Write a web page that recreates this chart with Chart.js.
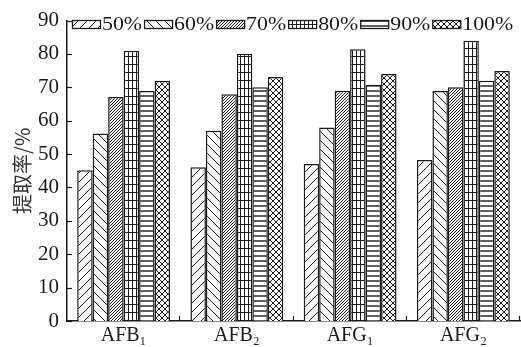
<!DOCTYPE html>
<html>
<head>
<meta charset="utf-8">
<script src="https://cdn.jsdelivr.net/npm/chart.js@4/dist/chart.umd.min.js"></script>
<style>
  html, body { margin: 0; padding: 0; background: #fff; }
  canvas { display: block; }
</style>
</head>
<body>
<canvas id="c" width="521" height="347"></canvas>
<script>
// --- data ---
const categories = ['AFB\u2081', 'AFB\u2082', 'AFG\u2081', 'AFG\u2082'];
const seriesLabels = ['50%', '60%', '70%', '80%', '90%', '100%'];
const s50 = [45.2, 46.1, 47.0, 48.2];
const s60 = [56.2, 57.0, 58.0, 68.9];
const s70 = [67.1, 67.9, 69.0, 70.0];
const s80 = [81.0, 80.1, 81.4, 84.0];
const s90 = [68.9, 70.0, 70.8, 72.0];
const s100 = [72.0, 73.1, 74.0, 74.9];
const yMin = 0, yMax = 90, yStep = 10;
const yTitle = '提取率/%';

const INK = '#1a1a1a';
const SERIF = '"Liberation Serif", "Times New Roman", serif';

// --- hatch patterns (one per series) ---
function makePattern(kind) {
    const c = document.createElement('canvas');
    const g = c.getContext('2d');
    let w = 8, h = 8;
    if (kind === 'fwd' || kind === 'back') { w = h = 9; }
    if (kind === 'dense') { w = h = 3; }
    if (kind === 'grid') { w = 4; h = 8; }
    if (kind === 'horiz') { w = 4; h = 5; }
    if (kind === 'cross') { w = h = 6; }
    c.width = w; c.height = h;
    g.fillStyle = '#fff';
    g.fillRect(0, 0, w, h);
    g.strokeStyle = INK;
    g.lineWidth = 1;
    const line = (x1, y1, x2, y2) => { g.beginPath(); g.moveTo(x1, y1); g.lineTo(x2, y2); g.stroke(); };
    if (kind === 'fwd' || kind === 'dense') {
        line(-1, h + 1, w + 1, -1);
        line(-1, 1, 1, -1);
        line(w - 1, h + 1, w + 1, h - 1);
    } else if (kind === 'back') {
        line(-1, -1, w + 1, h + 1);
        line(w - 1, -1, w + 1, 1);
        line(-1, h - 1, 1, h + 1);
    } else if (kind === 'grid') {
        line(0.5, 0, 0.5, h);
        line(0, 0.5, w, 0.5);
    } else if (kind === 'horiz') {
        g.lineWidth = 1.4;
        line(0, 1, w, 1);
    } else if (kind === 'cross') {
        line(-1, -1, w + 1, h + 1);
        line(-1, h + 1, w + 1, -1);
    }
    return g.createPattern(c, 'repeat');
}

const patterns = ['fwd', 'back', 'dense', 'grid', 'horiz', 'cross'].map(makePattern);
const seriesData = [s50, s60, s70, s80, s90, s100];

const datasets = seriesLabels.map((lab, i) => ({
    label: lab,
    data: seriesData[i],
    backgroundColor: patterns[i],
    borderColor: INK,
    borderWidth: 1.5,
    barPercentage: 1.0,
    categoryPercentage: 0.82
}));

// inward tick marks + legend drawn inside the plot
const decorPlugin = {
    id: 'decor',
    afterDraw(chart) {
        const ctx = chart.ctx;
        const x = chart.scales.x, y = chart.scales.y;
        const area = chart.chartArea;
        ctx.save();
        ctx.strokeStyle = INK;
        ctx.lineWidth = 1.2;
        // y ticks pointing right
        y.ticks.forEach((t, i) => {
            const py = Math.round(y.getPixelForTick(i)) + 0.5;
            ctx.beginPath();
            ctx.moveTo(area.left, py);
            ctx.lineTo(area.left + 5, py);
            ctx.stroke();
        });
        // x ticks at category boundaries pointing up
        const n = categories.length;
        const step = (area.right - area.left) / n;
        for (let i = 1; i <= n; i++) {
            const px = Math.round(x.getPixelForValue(i - 1) + step / 2) - 0.5;
            ctx.beginPath();
            ctx.moveTo(px, area.bottom);
            ctx.lineTo(px, area.bottom - 5);
            ctx.stroke();
        }
        // legend
        let lx = area.left + 5;
        const boxW = 29, boxH = 9, boxTop = 20;
        ctx.font = '19px ' + SERIF;
        ctx.textBaseline = 'middle';
        ctx.fillStyle = INK;
        chart.data.datasets.forEach(ds => {
            ctx.fillStyle = ds.backgroundColor;
            ctx.fillRect(lx, boxTop, boxW, boxH);
            ctx.lineWidth = 1.3;
            ctx.strokeRect(lx + 0.5, boxTop + 0.5, boxW - 1, boxH - 1);
            lx += boxW + 1;
            const tw = ctx.measureText(ds.label).width * 1.15;
            ctx.save();
            ctx.translate(lx, boxTop + boxH / 2 + 1);
            ctx.scale(1.15, 1);
            ctx.fillStyle = INK;
            ctx.fillText(ds.label, 0, 0);
            ctx.restore();
            lx += tw + 2;
        });
        ctx.restore();
    }
};

new Chart(document.getElementById('c'), {
    type: 'bar',
    data: { labels: categories, datasets },
    plugins: [decorPlugin],
    options: {
        responsive: false,
        animation: false,
        devicePixelRatio: 1,
        layout: { padding: { top: 17, right: 1, left: 0, bottom: 0 } },
        plugins: {
            legend: { display: false },
            tooltip: { enabled: false }
        },
        scales: {
            x: {
                grid: { display: false, drawTicks: false },
                border: { color: INK, width: 1.5 },
                ticks: { color: INK, font: { family: SERIF, size: 20 }, padding: 3 },
                afterFit(scale) { scale.height = 26; }
            },
            y: {
                min: yMin, max: yMax,
                grid: { display: false, drawTicks: false },
                border: { color: INK, width: 1.5 },
                ticks: { stepSize: yStep, color: INK, font: { family: SERIF, size: 21 }, padding: 8 },
                title: {
                    display: true, text: yTitle, color: '#333',
                    font: { family: '"Noto Sans CJK SC", sans-serif', size: 20 },
                    padding: { top: 10, bottom: 0 }
                },
                afterFit(scale) { scale.width = 67; }
            }
        }
    }
});
</script>
</body>
</html>
